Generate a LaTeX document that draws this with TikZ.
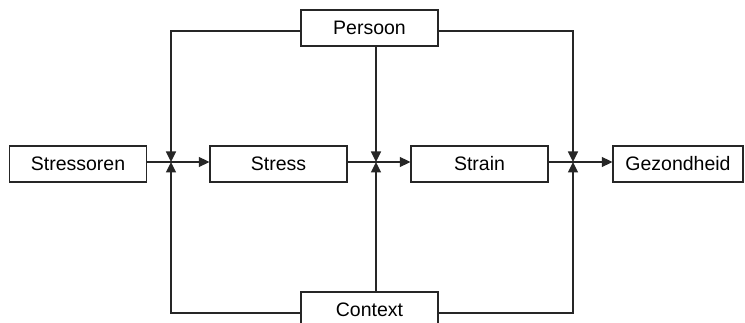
\documentclass[tikz,border=0pt]{standalone}
\usepackage{fontspec}
\setmainfont{Liberation Sans}
\usetikzlibrary{arrows.meta}
\begin{document}
\begin{tikzpicture}[x=1pt,y=-1pt,
  box/.style={draw=black!85, line width=1.3pt, fill=white, minimum width=137pt,
    minimum height=36pt, inner sep=0pt, font=\fontsize{19.5pt}{22pt}\selectfont},
  link/.style={draw=black!85, line width=1.3pt},
  arr/.style={link, -{Triangle[length=10.5pt,width=10pt]}}]
  \clip (0,0) rectangle (745,323);
  \fill[white] (0,0) rectangle (745,323);

  % chain of boxes
  \node[box] (sor) at (78,164) {Stressoren};
  \node[box] (str) at (278.5,164) {Stress};
  \node[box] (stn) at (479.5,164) {Strain};
  \node[box, minimum width=130pt] (gez) at (678,164) {Gezondheid};
  \node[box] (per) at (369.5,28) {Persoon};
  \node[box] (ctx) at (369.5,310) {Context};

  % junctions where moderators meet the main path
  \coordinate (j1) at (171,162);
  \coordinate (j2) at (376,162);
  \coordinate (j3) at (573,162);

  % main path
  \draw[arr] (sor.east |- j1) -- (str.west |- j1);
  \draw[arr] (str.east |- j2) -- (stn.west |- j2);
  \draw[arr] (stn.east |- j3) -- (gez.west |- j3);

  % Persoon from above
  \draw[arr] (per.west |- 0,31) -| (j1);
  \draw[arr] (per.south -| j2) -- (j2);
  \draw[arr] (per.east |- 0,31) -| (j3);

  % Context from below
  \draw[arr] (ctx.west |- 0,313) -| (j1);
  \draw[arr] (ctx.north -| j2) -- (j2);
  \draw[arr] (ctx.east |- 0,313) -| (j3);
\end{tikzpicture}
\end{document}
